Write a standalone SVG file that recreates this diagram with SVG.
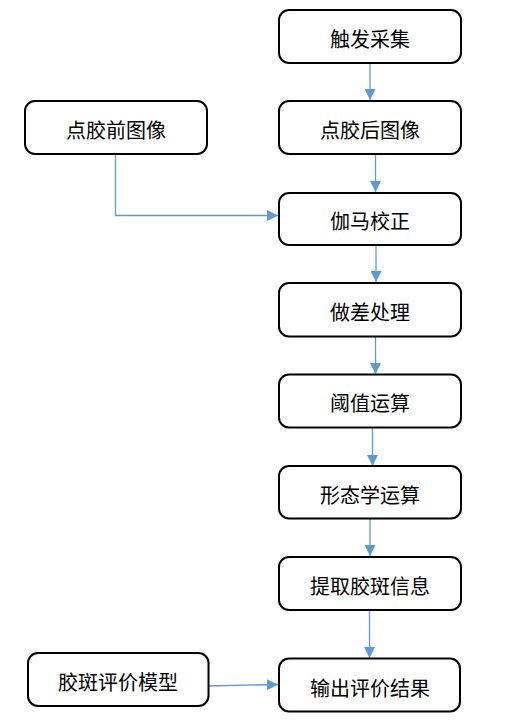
<svg xmlns="http://www.w3.org/2000/svg" width="518" height="724" viewBox="0 0 518 724">
<style>
.box{fill:#fff;stroke:#000;stroke-width:2}
.t{font-family:"Noto Sans CJK SC","Microsoft YaHei",sans-serif;font-size:20px;fill:#000;text-anchor:middle;dominant-baseline:central}
.c{fill:none;stroke:#5B9BD5;stroke-width:1.3;marker-end:url(#a)}
</style>
<defs>
<marker id="a" markerWidth="11" markerHeight="11" refX="10" refY="5" orient="auto" markerUnits="userSpaceOnUse" viewBox="0 0 10 10">
<path d="M0,0 L10,5 L0,10 Z" fill="#5B9BD5"/>
</marker>
</defs>
<rect width="518" height="724" fill="#fff"/>
<g id="connectors">
<path class="c" d="M370,63 V100"/>
<path class="c" d="M375.5,154 V192"/>
<path class="c" d="M115.5,154 V215.5 H278"/>
<path class="c" d="M376,245 V282"/>
<path class="c" d="M375.5,337 V374"/>
<path class="c" d="M372.5,428 V466"/>
<path class="c" d="M370,519 V556"/>
<path class="c" d="M369.5,610 V658"/>
<path class="c" d="M208.5,686 L278,684.5"/>
</g>
<g id="n1"><rect class="box" x="279" y="10" width="182" height="53" rx="10"/><text class="t" x="370" y="38">触发采集</text></g>
<g id="n2"><rect class="box" x="279" y="101" width="182" height="53" rx="10"/><text class="t" x="370" y="129">点胶后图像</text></g>
<g id="n0"><rect class="box" x="25" y="101" width="182" height="53" rx="10"/><text class="t" x="116" y="129">点胶前图像</text></g>
<g id="n3"><rect class="box" x="279" y="193" width="182" height="52" rx="10"/><text class="t" x="370" y="220.5">伽马校正</text></g>
<g id="n4"><rect class="box" x="279" y="283" width="182" height="53.5" rx="10"/><text class="t" x="370" y="311">做差处理</text></g>
<g id="n5"><rect class="box" x="279" y="374.5" width="182" height="53" rx="10"/><text class="t" x="370" y="402">阈值运算</text></g>
<g id="n6"><rect class="box" x="279" y="466" width="182" height="52.5" rx="10"/><text class="t" x="370" y="494">形态学运算</text></g>
<g id="n7"><rect class="box" x="279" y="557" width="182" height="53" rx="10"/><text class="t" x="370" y="585">提取胶斑信息</text></g>
<g id="n9"><rect class="box" x="28" y="653" width="180.5" height="53" rx="10"/><text class="t" x="118" y="681">胶斑评价模型</text></g>
<g id="n8"><rect class="box" x="279" y="658.5" width="181" height="53" rx="10"/><text class="t" x="370" y="687">输出评价结果</text></g>
</svg>
